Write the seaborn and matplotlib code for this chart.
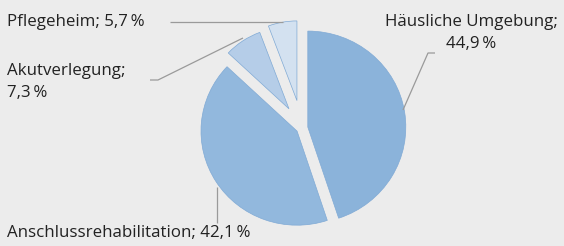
import matplotlib
matplotlib.use('Agg')
import matplotlib.pyplot as plt
import seaborn as sns

sns.set_theme(style="white")
plt.rcParams['font.family'] = ['Open Sans', 'DejaVu Sans']

# data
categories = ['Häusliche Umgebung', 'Anschlussrehabilitation', 'Akutverlegung', 'Pflegeheim']
shares = [44.9, 42.1, 7.3, 5.7]
share_labels = ['44,9\u2009%', '42,1\u2009%', '7,3\u2009%', '5,7\u2009%']

colors = ['#8bb3da', '#92b8dd', '#b5cde8', '#d3e1f0']
explode = [0.06, 0.06, 0.24, 0.29]
radii = [1.0, 0.98, 0.85, 0.83]
bg = '#ececec'

W, H = 564, 246
RX, RY = 98.0, 96.0   # pixels per unit radius
CX, CY = 302, 128     # pie center in pixels

fig = plt.figure(figsize=(W / 100, H / 100), dpi=100)
fig.patch.set_facecolor(bg)
ax = fig.add_axes([0, 0, 1, 1])
ax.set_facecolor(bg)

wedges, _ = ax.pie(shares, colors=colors, explode=explode, startangle=90,
                   counterclock=False,
                   wedgeprops=dict(edgecolor='#80aad5', linewidth=0.5))
for w, r in zip(wedges, radii):
    w.set_radius(r)

ax.set_xlim(-CX / RX, (W - CX) / RX)
ax.set_ylim(-(H - CY) / RY, CY / RY)
ax.set_aspect('auto')
ax.axis('off')


def px(x, y):
    return (x - CX) / RX, (CY - y) / RY


def leader(points):
    xs, ys = zip(*[px(x, y) for x, y in points])
    ax.plot(xs, ys, color='#9a9a9a', lw=0.9, solid_capstyle='butt')


leader([(435, 53), (428, 53), (403, 110)])
leader([(217, 187), (217, 223)])
leader([(150, 80), (158, 80), (243, 38)])
leader([(170, 22), (283, 22)])

fs = 12.2
tc = '#222222'
fig.text(471 / W, 1 - 33 / H, f'{categories[0]};\n{share_labels[0]}', ha='center',
         va='center', fontsize=fs, color=tc, linespacing=1.55, multialignment='center')
fig.text(7 / W, 1 - 233 / H, f'{categories[1]}; {share_labels[1]}', ha='left',
         va='center', fontsize=fs, color=tc)
fig.text(7 / W, 1 - 82 / H, f'{categories[2]};\n{share_labels[2]}', ha='left',
         va='center', fontsize=fs, color=tc, linespacing=1.55)
fig.text(7 / W, 1 - 22 / H, f'{categories[3]}; {share_labels[3]}', ha='left',
         va='center', fontsize=fs, color=tc)

fig.savefig('out.png', dpi=100, facecolor=bg)
